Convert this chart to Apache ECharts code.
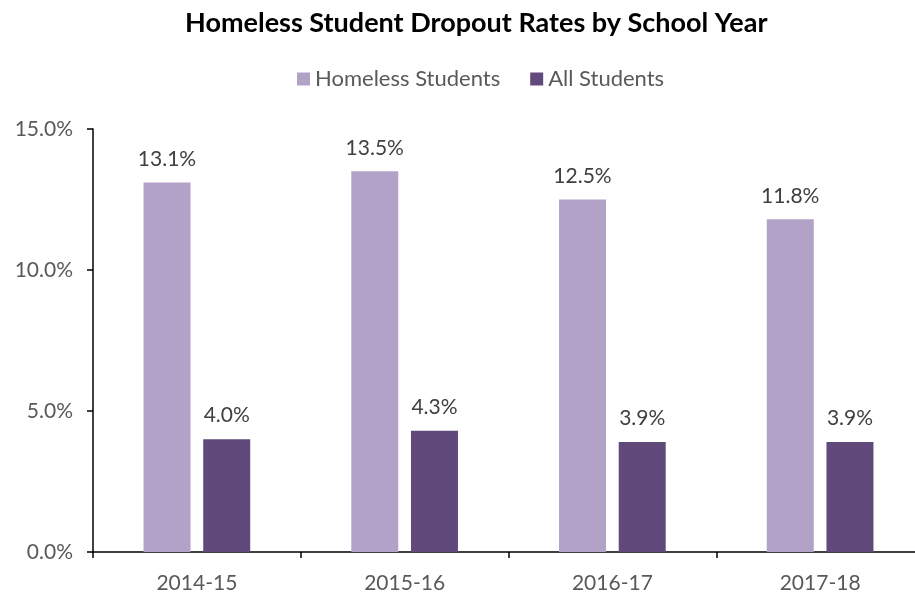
<!DOCTYPE html>
<html>
<head>
<meta charset="utf-8">
<script src="https://cdn.jsdelivr.net/npm/echarts@6/dist/echarts.min.js"></script>
<style>
  html, body { margin: 0; padding: 0; background: #fff; }
  #chart { width: 915px; height: 596px; }
</style>
</head>
<body>
<div id="chart"></div>
<script>
// School years on the category axis
const schoolYears = ['2014-15', '2015-16', '2016-17', '2017-18'];
// Dropout rates in percent
const homelessRates = [13.1, 13.5, 12.5, 11.8];
const allStudentRates = [4.0, 4.3, 3.9, 3.9];
// Value axis range
const yMin = 0, yMax = 15, yStep = 5;

const FONT = 'Lato, "Open Sans", sans-serif';
const chart = echarts.init(document.getElementById('chart'), null, { renderer: 'canvas' });

const labelStyle = {
  show: true,
  position: 'top',
  distance: 13,
  color: '#404040',
  fontFamily: FONT,
  fontSize: 21,
  formatter: p => p.value.toFixed(1) + '%'
};

chart.setOption({
  animation: false,
  title: {
    text: 'Homeless Student Dropout Rates by School Year',
    left: 180,
    top: 5,
    textStyle: { fontFamily: FONT, fontWeight: 'bold', fontSize: 27, color: '#000' }
  },
  legend: {
    top: 63,
    left: 292,
    itemWidth: 13,
    itemHeight: 13,
    itemGap: 30,
    icon: 'rect',
    textStyle: { fontFamily: FONT, fontSize: 22, color: '#595959' }
  },
  // the plot runs a little past the right edge of the canvas
  grid: { left: 93, width: 831, top: 129, bottom: 44, outerBoundsMode: 'none' },
  xAxis: {
    type: 'category',
    data: schoolYears,
    axisLine: { lineStyle: { color: '#000', width: 1.5 } },
    axisTick: { show: true, length: 6, lineStyle: { color: '#000', width: 1.5 } },
    axisLabel: { fontFamily: FONT, fontSize: 21, color: '#595959', margin: 21 }
  },
  yAxis: {
    type: 'value',
    min: yMin,
    max: yMax,
    interval: yStep,
    axisLine: { show: true, lineStyle: { color: '#000', width: 1.5 } },
    axisTick: { show: true, length: 6, lineStyle: { color: '#000', width: 1.5 } },
    splitLine: { show: false },
    axisLabel: {
      fontFamily: FONT, fontSize: 21, color: '#595959', margin: 20,
      formatter: v => v.toFixed(1) + '%'
    }
  },
  series: [
    {
      name: 'Homeless Students',
      type: 'bar',
      data: homelessRates,
      barWidth: 47,
      barGap: '27%',
      itemStyle: { color: '#B3A2C8' },
      label: labelStyle
    },
    {
      name: 'All Students',
      type: 'bar',
      data: allStudentRates,
      barWidth: 47,
      barGap: '27%',
      itemStyle: { color: '#604A7B' },
      label: labelStyle
    }
  ]
});
</script>
</body>
</html>
